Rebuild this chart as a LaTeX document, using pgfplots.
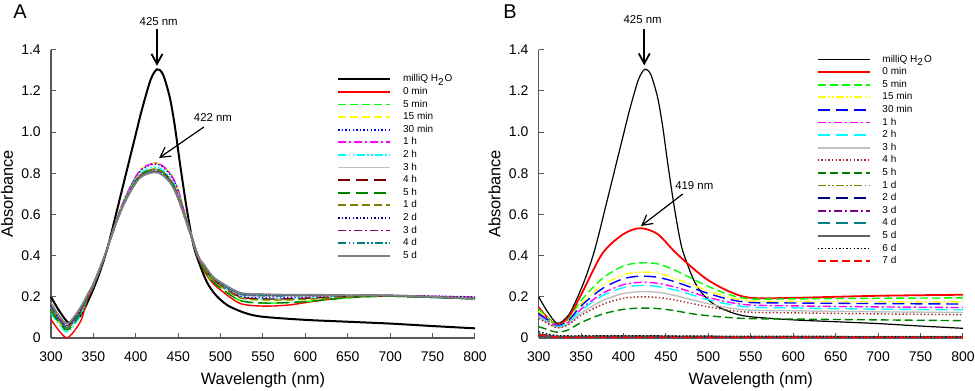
\documentclass[border=0pt]{standalone}
\usepackage{fontspec}
\setmainfont{Liberation Sans}
\usepackage{pgfplots}
\usepackage{pgfplotstable}
\pgfplotsset{compat=1.18}
\usetikzlibrary{arrows.meta}

\definecolor{cLime}{RGB}{0,255,0}
\definecolor{cYel}{RGB}{255,255,0}
\definecolor{cMag}{RGB}{255,0,255}
\definecolor{cCya}{RGB}{0,255,255}
\definecolor{cSilv}{RGB}{192,192,192}
\definecolor{cMaro}{RGB}{128,0,0}
\definecolor{cGrn}{RGB}{0,128,0}
\definecolor{cOliv}{RGB}{128,128,0}
\definecolor{cNav}{RGB}{0,0,128}
\definecolor{cPurp}{RGB}{128,0,128}
\definecolor{cTea}{RGB}{0,128,128}
\definecolor{cGry}{RGB}{128,128,128}
\definecolor{cDgry}{RGB}{96,96,96}
\definecolor{cBrn}{RGB}{165,42,42}
\definecolor{cRed}{RGB}{255,0,0}
\definecolor{cBlue}{RGB}{0,0,255}

\pgfplotstableread{
x w
300 .20
310 .13
322 .071
335 .11
346 .20
355 .29
364 .40
370 .49
376 .59
382 .69
388 .79
394 .89
400 .99
406 1.09
412 1.18
418 1.26
425 1.305
432 1.28
440 1.17
446 1.03
452 .85
460 .63
468 .45
476 .35
484 .27
492 .22
500 .185
511 .152
530 .12
550 .103
600 .088
650 .079
700 .07
750 .058
800 .047
}\tabBlack

\pgfplotstableread{
x r g5 y15 b30 m1 c2 s3 d4 g5h o1 n2 p3 t4 k5
300 .09 .14 .13 .14 .15 .12 .15 .14 .13 .14 .16 .16 .15 .17
310 .033 .075 .072 .082 .085 .062 .085 .082 .072 .082 .095 .095 .085 .105
320 .002 .04 .04 .05 .05 .03 .05 .05 .04 .05 .06 .06 .05 .07
335 .082 .12 .12 .13 .13 .11 .13 .13 .12 .13 .14 .14 .13 .15
343 .19 .203 .203 .205 .205 .199 .205 .205 .202 .205 .208 .208 .205 .211
350 .25 .258 .258 .26 .26 .256 .26 .26 .258 .26 .262 .262 .26 .264
363 .39 .394 .394 .395 .395 .393 .395 .395 .394 .395 .396 .396 .395 .397
378 .575 .584 .584 .583 .584 .578 .575 .575 .575 .575 .572 .572 .572 .571
390 .69 .705 .705 .703 .705 .695 .69 .69 .69 .69 .685 .685 .685 .683
405 .79 .814 .814 .81 .814 .798 .79 .79 .79 .79 .782 .782 .782 .778
422 .82 .85 .85 .845 .85 .83 .82 .82 .82 .82 .81 .81 .81 .805
432 .805 .835 .835 .83 .835 .815 .805 .805 .805 .805 .795 .795 .795 .79
442 .76 .79 .79 .785 .79 .77 .76 .76 .76 .76 .75 .75 .75 .745
450 .69 .72 .72 .715 .72 .70 .69 .69 .69 .69 .68 .68 .68 .675
457 .60 .615 .615 .613 .615 .605 .60 .60 .60 .60 .595 .595 .595 .593
465 .50 .509 .509 .508 .509 .503 .50 .50 .50 .50 .497 .497 .497 .496
473 .40 .406 .406 .405 .406 .402 .40 .40 .40 .40 .398 .398 .398 .397
480 .33 .338 .345 .35 .355 .348 .355 .348 .338 .345 .356 .357 .355 .359
490 .27 .278 .287 .292 .298 .289 .298 .289 .278 .287 .299 .30 .298 .302
500 .233 .243 .253 .259 .266 .256 .266 .256 .243 .253 .267 .269 .266 .271
523 .168 .182 .195 .204 .213 .20 .213 .20 .182 .195 .216 .218 .213 .22
550 .155 .17 .185 .195 .205 .19 .205 .19 .17 .185 .208 .21 .205 .213
580 .16 .172 .185 .195 .205 .19 .205 .19 .172 .185 .207 .208 .205 .21
610 .178 .18 .19 .20 .205 .195 .205 .195 .18 .19 .207 .208 .205 .21
650 .198 .195 .20 .203 .205 .20 .205 .20 .195 .198 .207 .207 .205 .208
700 .205 .203 .205 .205 .207 .203 .206 .203 .203 .203 .207 .207 .205 .207
800 .195 .19 .195 .20 .198 .19 .19 .19 .19 .195 .198 .192 .19 .192
}\tabA

\pgfplotstableread{
x r g5 y15 b30 m1 c2 s3 d4 g5h o1 n2 p3 t4 k5 k6 r7
300 .15 .14 .13 .12 .11 .105 .10 .095 .055 .012 .015 .010 .012 .020 .030 .015
310 .10 .10 .095 .09 .085 .08 .075 .072 .042 .009 .011 .007 .009 .014 .020 .009
322 .065 .06 .06 .06 .055 .055 .05 .05 .028 .006 .007 .005 .006 .008 .012 .004
335 .10 .09 .085 .084 .077 .075 .068 .065 .04 .005 .007 .005 .006 .008 .010 .003
350 .21 .182 .165 .156 .141 .135 .12 .11 .075 .005 .007 .005 .006 .008 .010 .003
375 .41 .289 .255 .24 .216 .205 .181 .163 .116 .005 .008 .005 .006 .009 .010 .003
400 .505 .35 .307 .288 .259 .245 .216 .193 .139 .006 .008 .005 .006 .009 .010 .003
420 .533 .365 .32 .30 .27 .255 .225 .20 .145 .006 .008 .005 .006 .009 .010 .003
440 .505 .36 .315 .295 .266 .25 .222 .197 .143 .006 .008 .005 .006 .009 .010 .003
460 .42 .33 .29 .274 .248 .234 .207 .185 .133 .006 .008 .005 .006 .008 .009 .003
480 .345 .29 .26 .245 .223 .21 .186 .168 .118 .005 .007 .005 .006 .008 .009 .003
500 .28 .25 .228 .216 .197 .186 .166 .151 .108 .005 .007 .005 .006 .008 .009 .003
525 .225 .21 .197 .187 .173 .163 .146 .134 .099 .005 .006 .004 .006 .007 .008 .003
550 .195 .19 .18 .172 .16 .15 .135 .125 .094 .005 .006 .004 .006 .007 .008 .003
600 .195 .19 .178 .17 .156 .146 .132 .122 .092 .005 .006 .004 .006 .007 .008 .003
700 .205 .193 .176 .167 .151 .14 .127 .117 .088 .004 .005 .004 .006 .006 .007 .003
800 .21 .195 .175 .165 .148 .137 .124 .113 .084 .004 .005 .004 .006 .006 .007 .003
}\tabB

\tikzset{
  dsh/.style={dash pattern=on 4pt off 2pt},
  ldsh/.style={dash pattern=on 6pt off 3pt},
  dtt/.style={dash pattern=on 0.7pt off 1.1pt},
  dsd/.style={dash pattern=on 4pt off 1.5pt on 1pt off 1.5pt},
  dsdd/.style={dash pattern=on 4pt off 1.2pt on 0.8pt off 1.2pt on 0.8pt off 1.2pt},
}

\pgfplotsset{
  myax/.style={
    scale only axis, height=144.15pt,
    xmin=300, xmax=800, ymin=0, ymax=1.4,
    axis lines=left,
    axis line style={-, draw=black!65, line width=0.6pt},
    tick style={draw=black!65, line width=0.5pt},
    tick align=inside, major tick length=2.5pt,
    xtick={300,350,...,800},
    ytick={0,0.2,0.4,0.6,0.8,1.0,1.2,1.4},
    yticklabels={0,0.2,0.4,0.6,0.8,1.0,1.2,1.4},
    xticklabels={300,350,400,450,500,550,600,650,700,750,800},
    ticklabel style={font=\fontsize{7}{8}\selectfont},
    xticklabel style={yshift=-3.2pt},
    yticklabel style={xshift=-1.6pt},
    xlabel={Wavelength (nm)}, ylabel={Absorbance},
    label style={font=\fontsize{8.2}{9}\selectfont},
    xlabel style={at={(axis description cs:0.5,-0.146)}, anchor=center},
    ylabel style={at={(axis description cs:-0.104,0.5)}, anchor=center},
    clip=false,
    every axis plot/.append style={smooth, line width=0.7pt},
    legend cell align=left,
    legend image code/.code={\draw[##1, line width=0.9pt] (0pt,0pt) -- (26pt,0pt); \path (32pt,0pt);},
    legend style={draw=none, fill=none, anchor=north west,
      font=\fontsize{5}{6}\selectfont, row sep=0pt,
      nodes={inner sep=0pt, text height=4.4pt, text depth=1.9pt}},
  }
}

\begin{document}
\begin{tikzpicture}
\useasboundingbox (0,0) rectangle (487.5pt,195.5pt);
% Panel A
\begin{axis}[myax, width=212pt, at={(25.5pt,26.5pt)}, anchor=south west,
  legend style={at={(axis cs:630,1.308)}}]
\addplot[color=black, line width=1pt] table[x=x,y=w] {\tabBlack};
\addlegendentry{milliQ H\textsubscript{2}O}
\addplot[color=cRed] table[x=x,y=r] {\tabA}; \addlegendentry{0 min}
\addplot[color=cLime, dsh] table[x=x,y=g5] {\tabA}; \addlegendentry{5 min}
\addplot[color=cYel, dsh] table[x=x,y=y15] {\tabA}; \addlegendentry{15 min}
\addplot[color=cBlue, dtt] table[x=x,y=b30] {\tabA}; \addlegendentry{30 min}
\addplot[color=cMag, dsd] table[x=x,y=m1] {\tabA}; \addlegendentry{1 h}
\addplot[color=cCya, dsdd] table[x=x,y=c2] {\tabA}; \addlegendentry{2 h}
\addplot[color=cSilv] table[x=x,y=s3] {\tabA}; \addlegendentry{3 h}
\addplot[color=cMaro, ldsh] table[x=x,y=d4] {\tabA}; \addlegendentry{4 h}
\addplot[color=cGrn, ldsh] table[x=x,y=g5h] {\tabA}; \addlegendentry{5 h}
\addplot[color=cOliv, dsh] table[x=x,y=o1] {\tabA}; \addlegendentry{1 d}
\addplot[color=cNav, dtt] table[x=x,y=n2] {\tabA}; \addlegendentry{2 d}
\addplot[color=cPurp, dsd] table[x=x,y=p3] {\tabA}; \addlegendentry{3 d}
\addplot[color=cTea, dsdd] table[x=x,y=t4] {\tabA}; \addlegendentry{4 d}
\addplot[color=cGry, line width=0.9pt] table[x=x,y=k5] {\tabA}; \addlegendentry{5 d}
\draw[-{Straight Barb[length=5pt,width=5.5pt]}, line width=0.9pt] (axis cs:425,1.50) -- (axis cs:425,1.322);
\node[font=\fontsize{5.7}{7}\selectfont] at (axis cs:427,1.538) {425 nm};
\draw[-{Straight Barb[length=5pt,width=5.5pt]}, line width=0.6pt] (axis cs:480.4,1.025) -- (axis cs:427.4,0.874);
\node[font=\fontsize{5.7}{7}\selectfont] at (axis cs:491,1.07) {422 nm};
\end{axis}
% Panel B
\begin{axis}[myax, width=212.15pt, at={(269.35pt,26.5pt)}, anchor=south west,
  legend style={at={(axis cs:620,1.404)}}]
\addplot[color=black, line width=0.6pt] table[x=x,y=w] {\tabBlack};
\addlegendentry{milliQ H\textsubscript{2}O}
\addplot[color=cRed, line width=0.9pt] table[x=x,y=r] {\tabB}; \addlegendentry{0 min}
\addplot[color=cLime, dsh] table[x=x,y=g5] {\tabB}; \addlegendentry{5 min}
\addplot[color=cYel, dsdd] table[x=x,y=y15] {\tabB}; \addlegendentry{15 min}
\addplot[color=cBlue, ldsh] table[x=x,y=b30] {\tabB}; \addlegendentry{30 min}
\addplot[color=cMag, dsd] table[x=x,y=m1] {\tabB}; \addlegendentry{1 h}
\addplot[color=cCya, ldsh] table[x=x,y=c2] {\tabB}; \addlegendentry{2 h}
\addplot[color=cSilv] table[x=x,y=s3] {\tabB}; \addlegendentry{3 h}
\addplot[color=cBrn, dtt] table[x=x,y=d4] {\tabB}; \addlegendentry{4 h}
\addplot[color=cGrn, dsh] table[x=x,y=g5h] {\tabB}; \addlegendentry{5 h}
\addplot[color=cOliv, dsdd] table[x=x,y=o1] {\tabB}; \addlegendentry{1 d}
\addplot[color=cNav, ldsh] table[x=x,y=n2] {\tabB}; \addlegendentry{2 d}
\addplot[color=cPurp, dsd] table[x=x,y=p3] {\tabB}; \addlegendentry{3 d}
\addplot[color=cTea, ldsh] table[x=x,y=t4] {\tabB}; \addlegendentry{4 d}
\addplot[color=cDgry] table[x=x,y=k5] {\tabB}; \addlegendentry{5 d}
\addplot[color=black, dtt] table[x=x,y=k6] {\tabB}; \addlegendentry{6 d}
\addplot[color=cRed, dsh] table[x=x,y=r7] {\tabB}; \addlegendentry{7 d}
\draw[-{Straight Barb[length=5pt,width=5.5pt]}, line width=0.9pt] (axis cs:424.4,1.50) -- (axis cs:424.4,1.324);
\node[font=\fontsize{5.7}{7}\selectfont] at (axis cs:422.5,1.548) {425 nm};
\draw[-{Straight Barb[length=5pt,width=5.5pt]}, line width=0.6pt] (axis cs:469.7,0.699) -- (axis cs:420.6,0.544);
\node[font=\fontsize{5.7}{7}\selectfont] at (axis cs:483.4,0.742) {419 nm};
\end{axis}
\node[font=\fontsize{10}{12}\selectfont] at (10pt,189.5pt) {A};
\node[font=\fontsize{10}{12}\selectfont] at (255pt,189.5pt) {B};
\end{tikzpicture}
\end{document}
